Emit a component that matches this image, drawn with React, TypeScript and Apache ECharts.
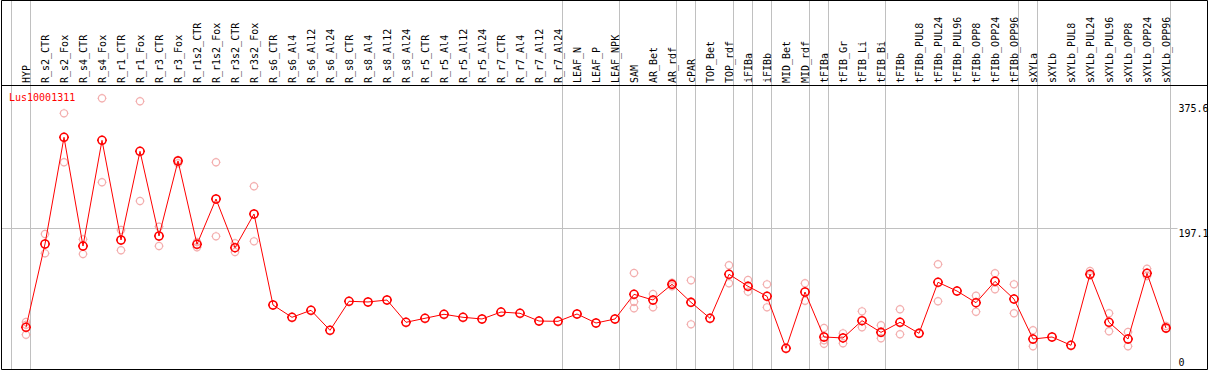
import React, { useEffect, useRef } from "react";
import * as echarts from "echarts";

const geneName = "Lus10001311";

const categories = [
  "HYP",
  "R_s2_CTR", "R_s2_Fox", "R_s4_CTR", "R_s4_Fox", "R_r1_CTR", "R_r1_Fox", "R_r3_CTR", "R_r3_Fox",
  "R_r1s2_CTR", "R_r1s2_Fox", "R_r3s2_CTR", "R_r3s2_Fox",
  "R_s6_CTR", "R_s6_Al4", "R_s6_Al12", "R_s6_Al24", "R_s8_CTR", "R_s8_Al4", "R_s8_Al12", "R_s8_Al24",
  "R_r5_CTR", "R_r5_Al4", "R_r5_Al12", "R_r5_Al24", "R_r7_CTR", "R_r7_Al4", "R_r7_Al12", "R_r7_Al24",
  "LEAF_N", "LEAF_P", "LEAF_NPK",
  "SAM", "AR_Bet", "AR_rdf", "cPAR", "TOP_Bet", "TOP_rdf", "iFIBa", "iFIBb", "MID_Bet", "MID_rdf",
  "tFIBa", "tFIB_Gr", "tFIB_Li", "tFIB_Bi",
  "tFIBb", "tFIBb_PUL8", "tFIBb_PUL24", "tFIBb_PUL96", "tFIBb_OPP8", "tFIBb_OPP24", "tFIBb_OPP96",
  "sXYLa", "sXYLb", "sXYLb_PUL8", "sXYLb_PUL24", "sXYLb_PUL96", "sXYLb_OPP8", "sXYLb_OPP24", "sXYLb_OPP96",
];

const meanValues = [
  56.5,
  175.0, 326.8, 172.1, 322.5, 180.7, 306.9, 186.4, 293.1,
  174.6, 239.0, 169.7, 217.7,
  88.2, 70.7, 80.7, 52.2, 93.5, 92.5, 95.3, 63.6,
  69.3, 75.0, 70.7, 68.3, 78.2, 76.4, 65.4, 65.0,
  75.4, 62.6, 68.3,
  103.4, 95.3, 117.6, 92.0, 69.3, 131.9, 114.8, 100.6, 26.6, 106.7,
  42.7, 41.3, 65.9, 49.3,
  63.6, 47.9, 120.5, 108.1, 91.5, 121.9, 96.7,
  39.8, 42.7, 30.9, 131.9, 63.6, 39.8, 133.3, 55.5,
];

const replicateValues: number[][] = [
  [64, 60, 46],
  [189.2, 161.7], [360.9, 291.2], [181.6, 160.8], [382.3, 262.8], [194.9, 166.0], [378.0, 236.2], [199.6, 172.1], [294.5, 289.8],
  [177.8, 170.3], [291.2, 185.9], [176.0, 163.6], [257.1, 178.8],
  [], [], [], [], [], [], [], [],
  [], [], [], [], [], [], [], [],
  [], [], [],
  [133.7, 92.9, 83.5], [103.9, 84.9], [120.0, 115.0], [123.3, 60.7], [], [144.7, 119.1], [123.8, 107.2], [117.6, 84.9], [], [119.1, 94.3],
  [55.5, 38.0, 33.0], [47.9, 33.7], [79.2, 56.5], [59.3, 40.8],
  [82.1, 46.5], [], [146.1, 93.5], [], [101.4, 78.7], [133.3, 110.5], [117.6, 76.4],
  [52.2, 29.4], [], [], [136.6, 130.5], [76.4, 50.8], [49.8, 29.4], [139.9, 129.5], [58.3, 54.5],
];

const yTickValues = [0, 197.1, 375.6];
const yTickLabels = ["0", "197.1", "375.6"];
const gridLineValues = [197.1];
// group separators are drawn after these category indices (-1 = before the first)
const separatorAfter = [-1, 0, 28, 31, 34, 35, 37, 38, 39, 41, 42, 45, 52, 53, 60];

const MARKER =
  "path://M5 1C7.209 1 9 2.791 9 5C9 7.209 7.209 9 5 9C2.791 9 1 7.209 1 5C1 2.791 2.791 1 5 1Z" +
  "M5 0L5 1M5 9L5 10M0 5L1 5M9 5L10 5";

const MONO = "'DejaVu Sans Mono', monospace";

export default function App() {
  const ref = useRef<HTMLDivElement>(null);

  useEffect(() => {
    document.body.style.margin = "0";
    const chart = echarts.init(ref.current as HTMLDivElement, null, { renderer: "svg" });

    const scatterData: number[][] = [];
    replicateValues.forEach((reps, i) => reps.forEach((v) => scatterData.push([i, v])));

    chart.setOption({
      animation: false,
      grid: { left: 16.5, right: 33.5, top: 103, bottom: 3, show: false },
      xAxis: {
        type: "category",
        data: categories,
        position: "top",
        offset: 18,
        boundaryGap: true,
        axisLine: { show: false },
        axisTick: { show: false },
        splitLine: { show: false },
        axisLabel: {
          interval: 0,
          rotate: 90,
          margin: 2,
          fontFamily: MONO,
          fontSize: 10,
          color: "#000",
        },
      },
      yAxis: {
        type: "value",
        min: 0,
        max: 375.6,
        position: "right",
        axisLine: { show: false },
        axisTick: { show: false },
        axisLabel: { show: false },
        splitLine: { show: false },
      },
      series: [
        {
          type: "scatter",
          name: "replicates",
          data: scatterData,
          symbol: MARKER,
          symbolSize: 9,
          itemStyle: { color: "rgba(0,0,0,0)", borderColor: "#f09a9a", borderWidth: 1.2 },
          clip: false,
          silent: true,
          z: 2,
        },
        {
          type: "line",
          name: geneName,
          data: meanValues,
          symbol: MARKER,
          symbolSize: 10,
          showAllSymbol: true,
          lineStyle: { color: "#ff0000", width: 1 },
          itemStyle: { color: "rgba(0,0,0,0)", borderColor: "#ff0000", borderWidth: 1.6 },
          clip: false,
          silent: true,
          z: 3,
        },
      ],
    });

    const xPix = (i: number) => chart.convertToPixel({ xAxisIndex: 0 }, categories[i]) as number;
    const yPix = (v: number) => chart.convertToPixel({ yAxisIndex: 0 }, v) as number;
    const bw = xPix(1) - xPix(0);
    const center = (i: number) => (i < 0 ? xPix(0) + i * bw : xPix(i));
    const crisp = (v: number) => Math.round(v - 0.5) + 0.5;

    const frameLeft = 1.5;
    const frameRight = 1207.5;
    const frameTop = 0.5;
    const frameBottom = 369.5;
    const headerY = 85.5;
    const labelX = 1178.5;

    const elements: any[] = [];
    separatorAfter.forEach((idx) => {
      const x = crisp(center(idx) + bw * 0.237);
      elements.push({
        type: "line",
        shape: { x1: x, y1: frameTop, x2: x, y2: frameBottom },
        style: { stroke: "#c0c0c0", lineWidth: 1 },
        z: 0,
        silent: true,
      });
    });
    gridLineValues.forEach((v) => {
      const y = crisp(yPix(v));
      elements.push({
        type: "line",
        shape: { x1: frameLeft, y1: y, x2: labelX - 1, y2: y },
        style: { stroke: "#c0c0c0", lineWidth: 1 },
        z: 0,
        silent: true,
      });
    });
    elements.push({
      type: "rect",
      shape: { x: frameLeft, y: frameTop, width: frameRight - frameLeft, height: frameBottom - frameTop },
      style: { fill: "none", stroke: "#000", lineWidth: 1 },
      z: 1,
      silent: true,
    });
    elements.push({
      type: "line",
      shape: { x1: frameLeft, y1: headerY, x2: frameRight, y2: headerY },
      style: { stroke: "#000", lineWidth: 1 },
      z: 1,
      silent: true,
    });
    yTickValues.forEach((v, k) => {
      const y = yPix(v);
      const isMin = k === 0;
      elements.push({
        type: "text",
        x: labelX,
        y,
        style: {
          text: yTickLabels[k],
          fill: "#000",
          fontFamily: MONO,
          fontSize: 10,
          align: "left",
          verticalAlign: isMin ? "bottom" : "top",
        },
        z: 5,
        silent: true,
      });
    });
    elements.push({
      type: "text",
      x: 9,
      y: 97,
      style: {
        text: geneName,
        fill: "#ff0000",
        fontFamily: MONO,
        fontSize: 10,
        align: "left",
        verticalAlign: "middle",
      },
      z: 5,
      silent: true,
    });

    chart.setOption({ graphic: { elements } });

    return () => {
      chart.dispose();
    };
  }, []);

  return (
    <div
      ref={ref}
      style={{ position: "absolute", left: 0, top: 0, width: 1209, height: 370 }}
    />
  );
}
